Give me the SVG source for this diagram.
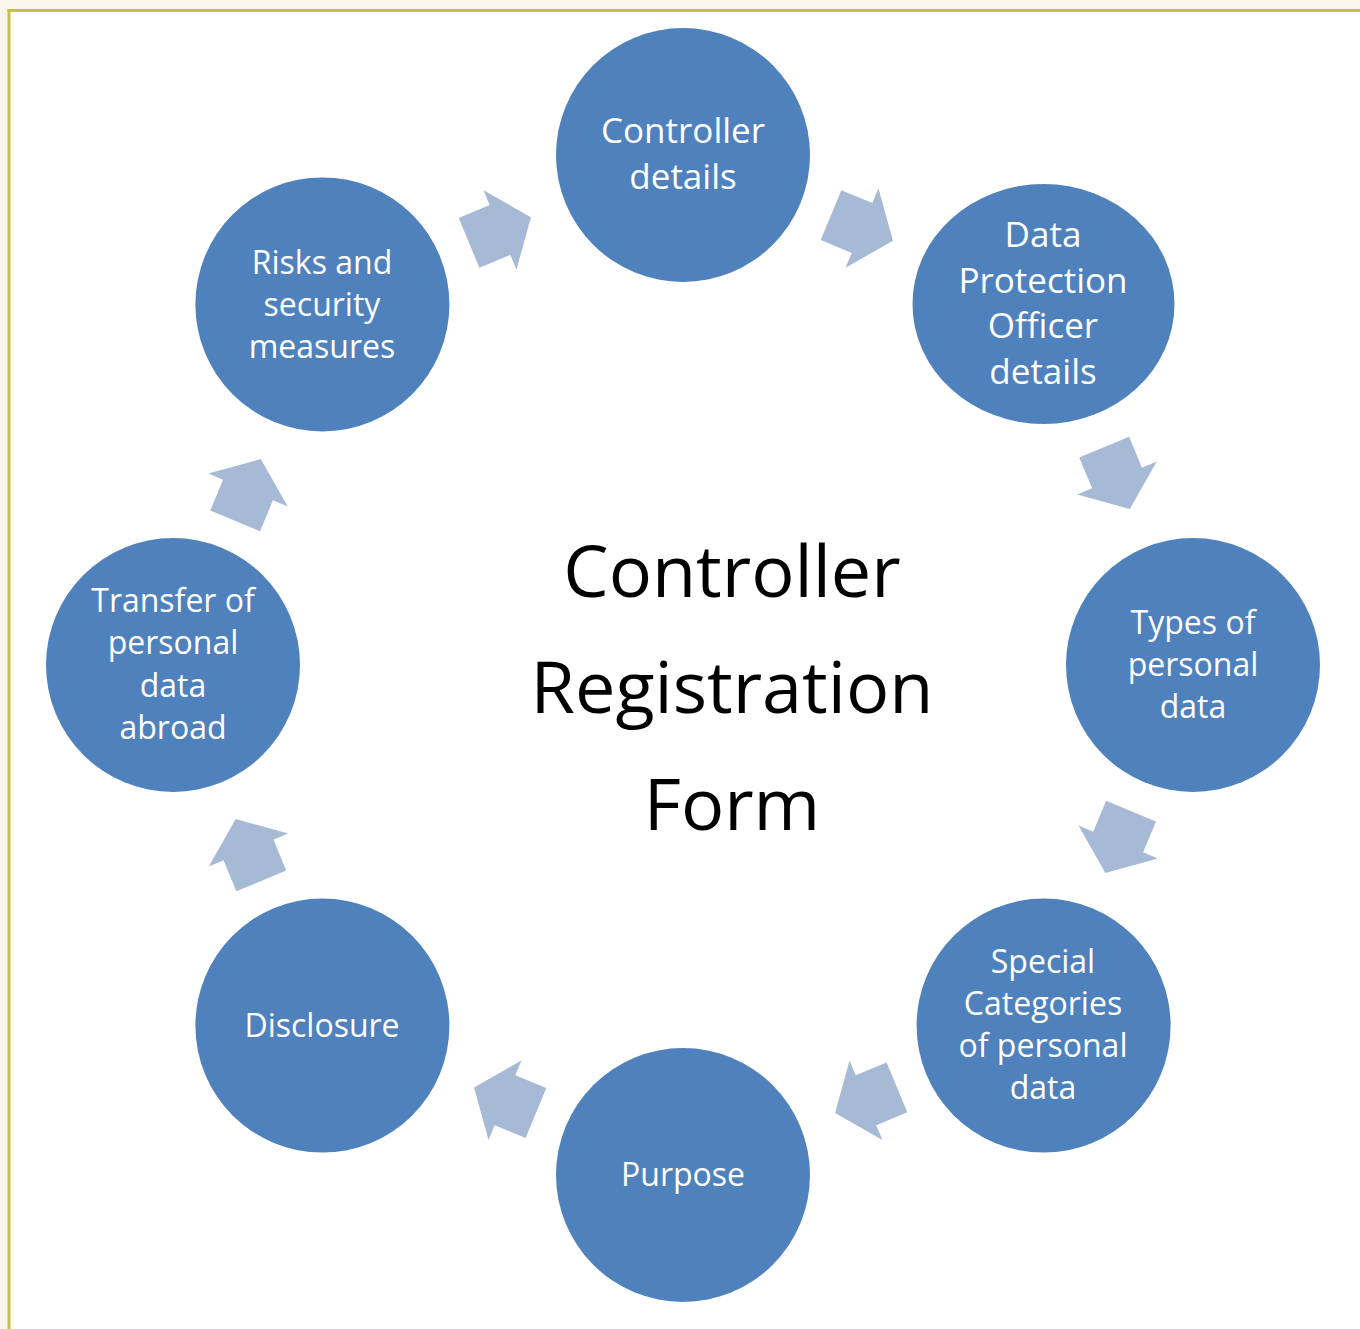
<svg xmlns="http://www.w3.org/2000/svg" width="1360" height="1329" viewBox="0 0 1360 1329">
<defs>
<style>
.node{fill:#4f81bd}
.lbl{font-family:"Open Sans","Liberation Sans",sans-serif;fill:#ffffff;text-anchor:middle}
.big{font-size:35px}
.sm{font-size:32px}
.title{font-family:"Open Sans","Liberation Sans",sans-serif;font-size:72px;fill:#000000;text-anchor:middle}
.arr{fill:#a6b9d5}
</style>
<path id="arrow" d="M-33.5,-27 L0,-27 L0,-43 L33.5,0 L0,43 L0,27 L-33.5,27 Z"/>
</defs>
<rect x="0" y="0" width="1360" height="1329" fill="#f8f6ea"/>
<rect x="9" y="10" width="1351" height="1319" fill="#ffffff"/>
<line x1="7.5" y1="10.5" x2="1360" y2="10.5" stroke="#c5c050" stroke-width="3"/>
<line x1="9" y1="9" x2="9" y2="1329" stroke="#c5c050" stroke-width="3"/>

<g id="connectors">
<use href="#arrow" class="arr" transform="translate(862,228) rotate(22.5)"/>
<use href="#arrow" class="arr" transform="translate(1117,478) rotate(67.5)"/>
<use href="#arrow" class="arr" transform="translate(1118.2,842) rotate(112.5)"/>
<use href="#arrow" class="arr" transform="translate(866,1100.2) rotate(157.5)"/>
<use href="#arrow" class="arr" transform="translate(505,1100.2) rotate(202.5)"/>
<use href="#arrow" class="arr" transform="translate(248.5,850) rotate(247.5)"/>
<use href="#arrow" class="arr" transform="translate(248,490) rotate(292.5)"/>
<use href="#arrow" class="arr" transform="translate(500,230) rotate(337.5)"/>
</g>

<g id="node-controller">
<circle class="node" cx="683" cy="155" r="127"/>
<text class="lbl big"><tspan x="683" y="143">Controller</tspan><tspan x="683" y="189">details</tspan></text>
</g>
<g id="node-dpo">
<ellipse class="node" cx="1043.5" cy="304" rx="131" ry="120"/>
<text class="lbl big"><tspan x="1043" y="247">Data</tspan><tspan x="1043" y="293">Protection</tspan><tspan x="1043" y="338">Officer</tspan><tspan x="1043" y="384">details</tspan></text>
</g>
<g id="node-types">
<circle class="node" cx="1193" cy="665" r="127"/>
<text class="lbl sm"><tspan x="1193" y="634">Types of</tspan><tspan x="1193" y="676">personal</tspan><tspan x="1193" y="718">data</tspan></text>
</g>
<g id="node-special">
<circle class="node" cx="1043.6" cy="1025.6" r="127"/>
<text class="lbl sm"><tspan x="1043" y="973">Special</tspan><tspan x="1043" y="1015">Categories</tspan><tspan x="1043" y="1057">of personal</tspan><tspan x="1043" y="1099">data</tspan></text>
</g>
<g id="node-purpose">
<circle class="node" cx="683" cy="1175" r="127"/>
<text class="lbl sm" x="683" y="1186">Purpose</text>
</g>
<g id="node-disclosure">
<circle class="node" cx="322.4" cy="1025.6" r="127"/>
<text class="lbl sm" x="322" y="1037">Disclosure</text>
</g>
<g id="node-transfer">
<circle class="node" cx="173" cy="665" r="127"/>
<text class="lbl sm"><tspan x="173" y="612">Transfer of</tspan><tspan x="173" y="654">personal</tspan><tspan x="173" y="697">data</tspan><tspan x="173" y="739">abroad</tspan></text>
</g>
<g id="node-risks">
<circle class="node" cx="322.4" cy="304.4" r="127"/>
<text class="lbl sm"><tspan x="322" y="274">Risks and</tspan><tspan x="322" y="316">security</tspan><tspan x="322" y="358">measures</tspan></text>
</g>

<g id="title">
<text class="title"><tspan x="732" y="597">Controller</tspan><tspan x="732" y="713">Registration</tspan><tspan x="732" y="830">Form</tspan></text>
</g>
</svg>
